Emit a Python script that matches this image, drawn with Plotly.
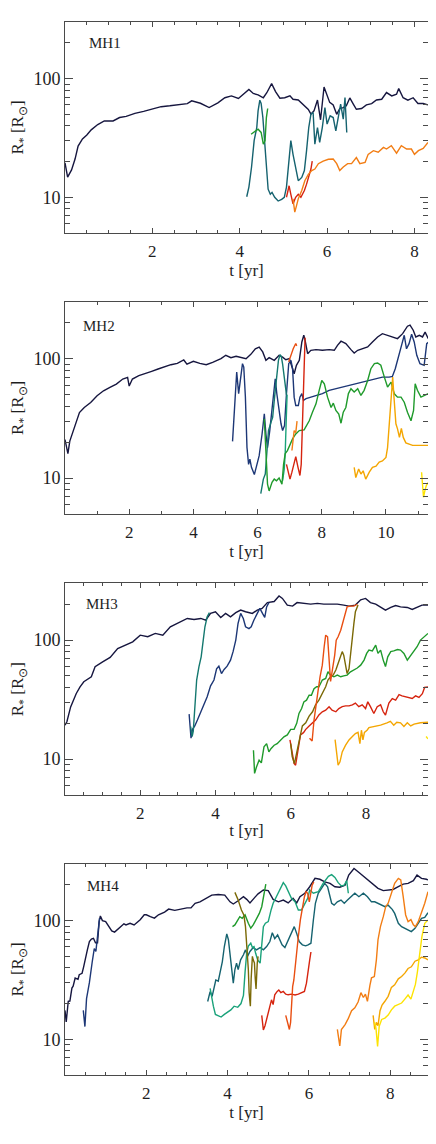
import math
import plotly.graph_objects as go

# ---------------- MH1 ----------------
mh1_black_t = [0.0, 0.06, 0.15, 0.23, 0.3, 0.4, 0.5, 0.6, 0.75, 0.9, 1.1, 1.25, 1.4, 1.6, 1.8, 2.0, 2.2, 2.4, 2.6, 2.8, 2.9, 3.1, 3.3, 3.5, 3.66, 3.81, 3.97, 4.08, 4.21, 4.31, 4.42, 4.54, 4.62, 4.73, 4.82, 4.92, 5.03, 5.15, 5.22, 5.34, 5.45, 5.57, 5.63, 5.7, 5.78, 5.85, 5.93, 5.99, 6.06, 6.14, 6.22, 6.29, 6.37, 6.44, 6.52, 6.6, 6.67, 6.79, 6.9, 7.02, 7.13, 7.25, 7.36, 7.48, 7.59, 7.64, 7.74, 7.85, 7.97, 8.08, 8.2, 8.31]
mh1_black_r = [19.5, 14.8, 17, 21, 27, 31, 33.5, 37, 41, 44, 44, 47, 48, 51, 53, 55.6, 58, 59, 60.5, 61.6, 65, 62, 57, 62.5, 69, 71.5, 68, 74, 81, 75, 73, 69, 76, 90.8, 77.7, 68.4, 69, 71.5, 67, 66, 61, 55, 50.2, 53.5, 66, 45, 85, 74, 63, 60, 50, 56, 57, 59, 68.7, 61, 55.2, 56, 60, 61.6, 66, 67, 76.3, 71.5, 73.8, 82.4, 69, 65.8, 69, 61.7, 61.7, 60]
mh1_teal_t = [4.16, 4.21, 4.27, 4.33, 4.39, 4.42, 4.46, 4.49, 4.53, 4.58, 4.62, 4.65, 4.7, 4.74, 4.8, 4.88, 4.96, 5.02, 5.07, 5.11, 5.17, 5.22, 5.28, 5.34, 5.42, 5.48, 5.53, 5.58, 5.63, 5.68, 5.72, 5.78, 5.83, 5.89, 5.95, 6.0, 6.07, 6.14, 6.2, 6.25, 6.31, 6.37, 6.41, 6.45]
mh1_teal_r = [10.1, 12.2, 17.9, 30, 38.7, 53.5, 65.8, 61.7, 46.9, 28, 16.8, 11.7, 10.6, 11, 10, 9.3, 9.6, 10, 12.2, 17.9, 30, 23, 17.3, 13.8, 14.7, 16.8, 24.7, 38.7, 50.2, 51.8, 28, 38.7, 29, 38.7, 57, 41.4, 48.6, 47, 36.3, 47, 61, 45.5, 69.3, 35.2]
mh1_green_t = [4.26, 4.35, 4.42, 4.49, 4.54, 4.58, 4.61, 4.64]
mh1_green_r = [34, 36.3, 37.5, 35.2, 28, 30, 47, 56]
mh1_red_t = [5.07, 5.13, 5.17, 5.22, 5.28, 5.34, 5.4, 5.48, 5.53, 5.58, 5.63, 5.66]
mh1_red_r = [10, 12.5, 10.6, 8.8, 10, 10.6, 10, 11.4, 12.9, 14.7, 17.3, 20.2]
mh1_orange_t = [5.22, 5.26, 5.3, 5.34, 5.42, 5.49, 5.57, 5.65, 5.72, 5.8, 5.91, 6.03, 6.14, 6.22, 6.29, 6.37, 6.47, 6.56, 6.67, 6.75, 6.87, 6.94, 7.06, 7.17, 7.29, 7.36, 7.47, 7.59, 7.7, 7.82, 7.93, 8.0, 8.09, 8.2, 8.31]
mh1_orange_r = [9.7, 7.5, 8.5, 9.7, 11.4, 13.8, 15.6, 16.8, 17.3, 19.2, 20.2, 20.9, 21, 19.2, 16.8, 18, 19.2, 19.2, 21.6, 19.2, 19.7, 23, 24.7, 24, 26.3, 25.5, 27.2, 23.5, 27.2, 25.5, 25.5, 23, 24.7, 25.8, 29]

# ---------------- MH2 ----------------
mh2_black_t = [0.0, 0.09, 0.15, 0.25, 0.35, 0.45, 0.6, 0.8, 1.0, 1.2, 1.4, 1.6, 1.8, 1.95, 2.0, 2.1, 2.3, 2.5, 2.7, 2.9, 3.1, 3.3, 3.5, 3.7, 3.8, 4.0, 4.2, 4.4, 4.6, 4.86, 5.01, 5.17, 5.33, 5.48, 5.64, 5.79, 5.93, 6.05, 6.16, 6.26, 6.36, 6.52, 6.67, 6.78, 6.88, 6.99, 7.07, 7.14, 7.21, 7.3, 7.38, 7.44, 7.48, 7.56, 7.66, 7.82, 8.02, 8.23, 8.39, 8.49, 8.6, 8.75, 8.91, 9.01, 9.12, 9.27, 9.43, 9.58, 9.74, 9.89, 10.05, 10.2, 10.36, 10.52, 10.67, 10.75, 10.85, 10.93, 11.04, 11.14, 11.22, 11.32]
mh2_black_r = [21, 16, 20.4, 24.8, 30, 35.4, 39, 43, 48.9, 53.8, 57.4, 61.3, 67.5, 69.7, 59, 67.5, 72, 74.6, 78.3, 81.9, 85.7, 89, 91.4, 97.5, 90, 95, 91.4, 89, 93, 100, 106.7, 102, 104.6, 102, 100, 108.7, 121, 125, 113.8, 96.8, 102, 96.8, 106.7, 103, 98, 100, 85, 74.8, 88, 96.8, 138, 157, 142.6, 110, 117.5, 119, 117.5, 119, 117.5, 129.4, 140, 133.8, 119, 111.6, 117.5, 121, 125.3, 138, 152, 162, 157, 154, 147.3, 162, 187, 191, 173, 152, 157, 152, 167, 147]
mh2_navy_t = [5.22, 5.27, 5.35, 5.41, 5.46, 5.53, 5.57, 5.62, 5.67, 5.72, 5.76, 5.81, 5.9, 5.97, 6.05, 6.14, 6.21, 6.26, 6.31, 6.38, 6.47, 6.55, 6.6, 6.65, 6.73, 6.78, 6.84, 6.9, 6.97, 7.04, 7.09, 7.14, 7.19, 7.27, 7.32, 7.38, 7.43, 7.51, 7.66, 7.82, 8.02, 8.23, 8.44, 8.65, 8.86, 9.06, 9.27, 9.48, 9.69, 9.89, 10.1, 10.2, 10.29, 10.39, 10.5, 10.57, 10.64, 10.72, 10.8, 10.88, 10.96, 11.06, 11.19, 11.27, 11.32]
mh2_navy_r = [20.3, 36.8, 77.3, 51, 65.7, 90.8, 85, 48, 18, 13, 14.4, 12.3, 10.7, 13, 15.4, 23.4, 34.5, 23.4, 18, 25, 41.8, 67.9, 50.8, 39, 28.5, 25, 27.5, 50.8, 90.8, 96.8, 82.4, 47.6, 40.5, 40.5, 47.6, 51, 44.7, 46.2, 47.6, 49.2, 51, 54.3, 56, 57.8, 59.7, 61.6, 63.6, 65.8, 67.9, 70, 70, 71, 82.4, 106.7, 133.6, 157, 121, 133.6, 160, 138, 106.7, 90.8, 88, 133.6, 137]
mh2_teal_t = [6.1, 6.18, 6.24, 6.28, 6.34, 6.42, 6.47, 6.53, 6.59, 6.65, 6.7, 6.74, 6.78, 6.82, 6.86, 6.9]
mh2_teal_r = [7.4, 9.8, 10.8, 15, 25, 29.4, 32.3, 47.6, 65.7, 96.8, 108, 104, 90, 75, 58, 50]
mh2_sea_t = [6.78, 6.83, 6.86, 6.88, 6.9, 6.92]
mh2_sea_r = [9.5, 11.8, 16, 21, 35, 50]
mh2_green_t = [6.21, 6.26, 6.31, 6.36, 6.45, 6.52, 6.59, 6.67, 6.76, 6.81, 6.86, 6.93, 7.01, 7.09, 7.19, 7.3, 7.45, 7.61, 7.71, 7.82, 7.92, 8.0, 8.08, 8.18, 8.29, 8.36, 8.44, 8.53, 8.6, 8.67, 8.75, 8.83, 8.91, 9.01, 9.12, 9.22, 9.32, 9.43, 9.53, 9.64, 9.74, 9.84, 9.95, 10.05, 10.16, 10.26, 10.36, 10.47, 10.57, 10.67, 10.78, 10.86, 10.91, 10.98, 11.09, 11.19, 11.32]
mh2_green_r = [31.3, 14.9, 8.9, 7.8, 9.2, 9.8, 9.5, 10, 8.9, 13, 16, 17, 19.3, 21.3, 23.4, 25, 25.3, 30.2, 35.6, 41.8, 54.3, 65.7, 61.6, 47.6, 39, 42.4, 36.8, 34.4, 28.8, 35.6, 39, 51, 56, 52.5, 56, 49.2, 54.3, 65.7, 82.4, 90.8, 92, 88, 70, 57.8, 63.6, 50.8, 47.6, 47.6, 43.2, 35.6, 30.2, 36.8, 61.6, 54.3, 47.6, 49.2, 51]
mh2_red_t = [6.9, 6.97, 7.01, 7.07, 7.14, 7.19, 7.26, 7.32, 7.36, 7.4, 7.44, 7.48]
mh2_red_r = [13, 10.8, 9.8, 11.2, 13.9, 15.1, 12.3, 10.5, 13, 34.5, 90.8, 150]
mh2_redorange_t = [6.97, 7.04, 7.11, 7.19, 7.22]
mh2_redorange_r = [94, 106.7, 121, 134, 128]
mh2_orange_t = [7.07, 7.14, 7.19, 7.23]
mh2_orange_r = [17, 25, 24, 30]
mh2_amber_t = [9.01, 9.06, 9.15, 9.22, 9.29, 9.37, 9.48, 9.58, 9.69, 9.79, 9.89, 10.0, 10.05, 10.1, 10.16, 10.21, 10.25, 10.31, 10.36, 10.42, 10.48, 10.54, 10.62, 10.83, 11.32]
mh2_amber_r = [12.3, 10.1, 11.9, 10.8, 11.5, 9.8, 11.2, 12.3, 12.6, 13.6, 13.9, 14.9, 18, 28.5, 47.6, 70, 47.6, 28.5, 25.8, 21.9, 26, 21.9, 19.7, 18.8, 18.8]
mh2_yellow_t = [11.11, 11.14, 11.17, 11.22, 11.26, 11.32]
mh2_yellow_r = [11.2, 8.3, 6.9, 8, 8.7, 9.2]

# ---------------- MH3 ----------------
mh3_black_t = [0.0, 0.05, 0.15, 0.3, 0.4, 0.5, 0.7, 0.8, 1.0, 1.2, 1.4, 1.6, 1.8, 2.0, 2.2, 2.4, 2.6, 2.8, 3.07, 3.25, 3.43, 3.61, 3.74, 3.87, 4.0, 4.14, 4.27, 4.4, 4.54, 4.67, 4.8, 4.98, 5.11, 5.24, 5.38, 5.56, 5.69, 5.78, 5.91, 6.05, 6.17, 6.35, 6.53, 6.71, 6.88, 7.06, 7.24, 7.41, 7.55, 7.72, 7.86, 7.99, 8.12, 8.26, 8.39, 8.52, 8.66, 8.79, 8.92, 9.1, 9.23, 9.36, 9.49, 9.65]
mh3_black_r = [19.3, 20.6, 27.5, 35.6, 40.5, 44.7, 49.2, 59.7, 65.7, 71.5, 85, 90.8, 96.8, 110, 106.7, 113.8, 110, 129.4, 142.6, 152, 149, 152, 147.3, 167.5, 173, 155, 167.5, 157, 170, 178.7, 173, 167.5, 178.7, 184.6, 206.6, 210.9, 234.5, 224, 196.8, 193.1, 206.6, 203.4, 200.6, 203.4, 200.6, 200.6, 200.6, 196.8, 193, 196.8, 218, 224, 206.6, 200.6, 190, 178.7, 188, 195, 190, 188, 181, 190, 196.8, 196.8]
mh3_navy_t = [3.3, 3.32, 3.35, 3.39, 3.45, 3.52, 3.59, 3.68, 3.78, 3.87, 3.96, 4.03, 4.09, 4.16, 4.23, 4.31, 4.4, 4.47, 4.54, 4.6, 4.67, 4.74, 4.8, 4.89, 4.95, 5.02, 5.11, 5.18, 5.25, 5.31, 5.36, 5.42]
mh3_navy_r = [23.9, 18.8, 15, 17.8, 19, 21.3, 24.2, 27.6, 33.5, 41.3, 46.2, 57.5, 60.4, 52.4, 56.7, 60.4, 67.9, 80.4, 100, 138, 167.5, 152, 129.4, 125, 129.4, 147, 167.5, 184.6, 167.5, 155, 190, 206.6]
mh3_teal_t = [3.34, 3.38, 3.41, 3.45, 3.5, 3.56, 3.62, 3.68, 3.72, 3.78, 3.84]
mh3_teal_r = [18.8, 15.5, 17.2, 27.6, 46.2, 59.7, 72.4, 103, 129.4, 157, 170]
mh3_green_t = [5.01, 5.04, 5.09, 5.16, 5.22, 5.29, 5.36, 5.42, 5.48, 5.56, 5.64, 5.73, 5.82, 5.91, 6.0, 6.09, 6.16, 6.22, 6.29, 6.35, 6.42, 6.49, 6.55, 6.62, 6.69, 6.75, 6.84, 6.93, 6.99, 7.06, 7.15, 7.24, 7.33, 7.41, 7.5, 7.59, 7.68, 7.77, 7.86, 7.95, 8.02, 8.08, 8.17, 8.26, 8.32, 8.39, 8.46, 8.52, 8.58, 8.66, 8.74, 8.84, 8.92, 9.01, 9.1, 9.19, 9.28, 9.36, 9.45, 9.54, 9.65]
mh3_green_r = [11.9, 7.6, 8.6, 9.8, 9.3, 12.7, 13.5, 11.5, 12.3, 13.1, 13.5, 14.5, 15.4, 16, 17.8, 17.8, 20, 24.2, 26.6, 30.3, 31.3, 34.4, 34.4, 39, 40.6, 40.6, 46.2, 47.7, 54.2, 50.8, 49.2, 50.8, 49.2, 50, 50.8, 54.2, 56.2, 58.3, 61.6, 67.9, 77.3, 82.4, 81.1, 90.8, 77.3, 82.4, 67.9, 60, 72.4, 80, 81.1, 83.4, 82.4, 77.3, 67.9, 74.8, 82.4, 88, 100, 106.6, 113.8]
mh3_red_t = [5.98, 6.04, 6.09, 6.13, 6.17, 6.22, 6.26, 6.34, 6.4, 6.49, 6.58, 6.66, 6.75, 6.84, 6.93, 7.02, 7.1, 7.2, 7.28, 7.37, 7.46, 7.55, 7.64, 7.72, 7.81, 7.9, 7.99, 8.05, 8.12, 8.21, 8.3, 8.39, 8.46, 8.52, 8.61, 8.7, 8.79, 8.88, 8.96, 9.05, 9.14, 9.23, 9.32, 9.41, 9.5, 9.56, 9.65]
mh3_red_r = [14.5, 11.2, 9.2, 8.9, 10.5, 13.5, 16, 16.7, 17.8, 19, 20.2, 21.3, 23.5, 25, 25.8, 27.6, 25.8, 25, 26.6, 27.6, 28, 28, 28.6, 29.6, 27.6, 28.6, 26.6, 30.3, 27.6, 24.2, 27.6, 28.6, 25, 23.5, 29.6, 32.3, 31.3, 34.8, 34, 33.5, 33, 32.3, 34, 33, 35.5, 40, 40.5]
mh3_olive_t = [6.0, 6.04, 6.1, 6.17, 6.24, 6.31, 6.4, 6.49, 6.58, 6.66, 6.75, 6.84, 6.93, 6.99, 7.06, 7.13, 7.2, 7.26, 7.33, 7.37, 7.41, 7.46, 7.5, 7.55, 7.59, 7.64, 7.68, 7.72, 7.79]
mh3_olive_r = [13.5, 10.5, 9.2, 11.9, 14.5, 19, 20.2, 23, 25, 28.6, 31.3, 35.5, 40.6, 46.2, 49.2, 50.8, 56, 63.6, 74.8, 80, 74.8, 63.6, 52.4, 57.5, 77.3, 106.6, 138, 173, 197]
mh3_orange_t = [6.5, 6.57, 6.62, 6.66, 6.72, 6.78, 6.84, 6.89, 6.93, 6.98, 7.02, 7.06, 7.1, 7.17, 7.21, 7.26, 7.33, 7.39, 7.44, 7.5, 7.57, 7.68, 7.77]
mh3_orange_r = [15, 14.2, 21.3, 27.6, 36, 49.2, 61.6, 88, 110, 106.7, 63.6, 45, 54.2, 74.8, 100, 106.7, 121, 142.6, 167.5, 190, 193, 193, 200]
mh3_amber_t = [7.18, 7.22, 7.26, 7.31, 7.37, 7.46, 7.55, 7.64, 7.72, 7.79, 7.84, 7.88, 7.92, 7.96, 8.03, 8.08, 8.21, 8.39, 8.56, 8.65, 8.74, 8.82, 8.92, 9.01, 9.1, 9.19, 9.28, 9.45, 9.65]
mh3_amber_r = [14.6, 11.2, 8.9, 9.5, 11.5, 13.1, 14.5, 15.5, 16.4, 16.8, 13.5, 17.5, 14.5, 16.8, 17.5, 18.4, 18.8, 19.3, 20.2, 20.8, 19.3, 20.4, 20.2, 18.8, 20.2, 19, 19.7, 20.2, 20.4]
mh3_yellow_t = [9.6, 9.65]
mh3_yellow_r = [15.5, 14.8]

# ---------------- MH4 ----------------
mh4_black_t = [0.0, 0.03, 0.08, 0.12, 0.17, 0.2, 0.25, 0.32, 0.35, 0.42, 0.46, 0.5, 0.55, 0.6, 0.65, 0.7, 0.75, 0.8, 0.84, 0.87, 0.92, 1.0, 1.1, 1.15, 1.22, 1.3, 1.45, 1.5, 1.6, 1.7, 1.85, 1.95, 2.0, 2.1, 2.2, 2.3, 2.45, 2.55, 2.7, 2.85, 3.0, 3.1, 3.2, 3.32, 3.44, 3.61, 3.77, 3.93, 4.06, 4.14, 4.26, 4.39, 4.47, 4.55, 4.67, 4.75, 4.88, 5.0, 5.12, 5.25, 5.37, 5.49, 5.61, 5.7, 5.78, 5.9, 6.02, 6.15, 6.27, 6.39, 6.52, 6.64, 6.76, 6.89, 6.98, 7.11, 7.21, 7.34, 7.46, 7.58, 7.7, 7.83, 7.95, 8.07, 8.2, 8.32, 8.44, 8.57, 8.66, 8.77, 8.89, 8.93]
mh4_black_r = [17.5, 14, 20.9, 21, 27, 28, 32.8, 32, 35, 36, 41, 48.2, 56.7, 66.6, 70, 71, 65, 65, 98, 109.4, 100, 98, 88, 82, 80, 85, 94, 92, 95, 92, 101.7, 112, 112, 108, 105, 112, 118, 125, 122, 125, 128, 128, 140, 144, 151, 164, 166, 164, 144, 138, 147, 159, 151, 141, 157, 168, 181, 179, 151, 144, 149, 141, 154, 141, 159, 170, 193, 227, 223, 212, 206, 193, 191, 199, 242, 275, 258, 236, 217, 203, 187, 179, 181, 183, 193, 203, 206, 217, 242, 227, 223, 220]
mh4_navy_t = [0.45, 0.49, 0.53, 0.6, 0.67, 0.72, 0.76, 0.8, 0.85]
mh4_navy_r = [17.5, 12.8, 22, 30, 45, 58, 55, 75, 105]
mh4_teal_t = [3.51, 3.57, 3.62, 3.67, 3.71, 3.77, 3.81, 3.87, 3.92, 3.98, 4.02, 4.06, 4.1, 4.14, 4.18, 4.22, 4.26, 4.32, 4.39, 4.44, 4.49, 4.55, 4.63, 4.71, 4.8, 4.88, 4.96, 5.04, 5.1, 5.16, 5.23, 5.29, 5.34, 5.41, 5.49, 5.57, 5.64, 5.7, 5.76, 5.84, 5.92, 5.98, 6.05, 6.11, 6.16, 6.23, 6.31, 6.39, 6.46, 6.52, 6.56, 6.62, 6.7, 6.79, 6.87, 6.95, 7.05, 7.13, 7.23, 7.34, 7.44, 7.54, 7.62, 7.75, 7.87, 7.95, 8.05, 8.11, 8.2, 8.28, 8.36, 8.44, 8.52, 8.61, 8.69, 8.77, 8.85, 8.93]
mh4_teal_r = [20.8, 25.2, 23, 28.3, 31.6, 30.9, 36, 45, 60.5, 77.3, 69, 50, 36, 29.7, 38.7, 43.8, 38.7, 46.7, 51.5, 56.7, 50, 55, 59.3, 56.7, 59.3, 56.7, 60.5, 66.6, 79, 70.6, 75.7, 69, 62.5, 59.3, 69, 80.8, 89, 78, 66.6, 62.5, 61.3, 62.5, 64.5, 101.3, 140, 170, 187, 206, 193, 159, 140, 135, 144, 149, 140, 149, 159, 170, 159, 170, 159, 144, 144, 138, 130.9, 135, 124.5, 115, 95, 89, 86.2, 83.5, 80.8, 86.2, 95, 104.6, 106.6, 116.7]
mh4_sea_t = [3.57, 3.61, 3.65, 3.7, 3.77, 3.84, 3.92, 4.0, 4.08, 4.16, 4.25, 4.33, 4.39, 4.43, 4.47, 4.51, 4.57, 4.61, 4.65, 4.69, 4.74, 4.8, 4.84, 4.88, 4.93, 5.0, 5.07, 5.12, 5.2, 5.29, 5.37, 5.43, 5.49, 5.57, 5.66, 5.74, 5.82, 5.9, 5.97, 6.02, 6.11, 6.23, 6.35, 6.48, 6.56, 6.64, 6.72, 6.8, 6.87, 6.93, 6.97]
mh4_sea_r = [26.9, 21.6, 19, 16.2, 15.9, 15.4, 16.2, 16.9, 17.7, 19, 18.6, 20, 23.4, 37, 53.2, 61, 64.5, 59.3, 60.5, 53, 46.7, 43.8, 64.5, 89, 95, 98, 123, 140, 159, 187, 209, 196, 175, 154, 144, 123, 123, 140, 154, 181, 170, 175, 206, 236, 244, 231, 209, 196, 199, 217, 170]
mh4_green_t = [4.12, 4.18, 4.25, 4.3, 4.36, 4.43, 4.51, 4.57, 4.63, 4.71, 4.78, 4.84, 4.89, 4.94]
mh4_green_r = [89, 92, 101, 108, 104.6, 111.6, 95, 86.2, 92, 104.6, 115, 131, 170, 203]
mh4_olive_t = [4.18, 4.26, 4.34, 4.4, 4.44, 4.48, 4.51, 4.53, 4.56, 4.58, 4.61, 4.63, 4.66, 4.68, 4.7, 4.73, 4.75]
mh4_olive_r = [173, 149, 123, 111.6, 89, 56.7, 38.7, 24.6, 19, 32.6, 50, 46.7, 44, 32.6, 26.5, 44, 50]
mh4_red_t = [4.84, 4.88, 4.92, 4.98, 5.04, 5.08, 5.12, 5.16, 5.22, 5.26, 5.31, 5.37, 5.43, 5.49, 5.57, 5.66, 5.74, 5.82, 5.89, 5.94, 5.98, 6.02, 6.05]
mh4_red_r = [15.9, 12, 13, 15.9, 19, 21.5, 19.6, 23.7, 25.3, 26, 24.7, 25.3, 24, 23.7, 24, 23.6, 24, 24.7, 25.3, 29.7, 38.7, 46.7, 54.4]
mh4_redorange_t = [5.43, 5.48, 5.52, 5.55, 5.57, 5.6, 5.63, 5.66, 5.7, 5.74, 5.79, 5.84, 5.89, 5.93, 5.97, 6.01, 6.05, 6.08, 6.12]
mh4_redorange_r = [15.9, 13.9, 12.1, 13.9, 20.2, 27.8, 31.6, 41.4, 56.7, 73.4, 101.3, 131, 159, 175, 170, 144, 170, 199, 212]
mh4_orange_t = [6.7, 6.74, 6.76, 6.8, 6.89, 6.97, 7.05, 7.13, 7.21, 7.28, 7.34, 7.39, 7.44, 7.5, 7.54, 7.61, 7.66, 7.7, 7.76, 7.83, 7.89, 7.95, 8.03, 8.11, 8.2, 8.26, 8.32, 8.38, 8.44, 8.51, 8.57, 8.62, 8.69, 8.77, 8.85, 8.93]
mh4_orange_r = [12.1, 10, 8.8, 12.1, 13.3, 15, 17.4, 18.4, 20.6, 24.7, 22.5, 24, 20.9, 28.3, 33, 33.8, 46.7, 69, 89, 108, 131, 140, 170, 206, 227, 220, 159, 111.6, 98, 102, 92, 89, 98, 115, 140, 175]
mh4_amber_t = [7.58, 7.62, 7.66, 7.7, 7.75, 7.8, 7.87, 7.95, 8.03, 8.11, 8.2, 8.28, 8.36, 8.44, 8.52, 8.61, 8.69, 8.77, 8.85, 8.93]
mh4_amber_r = [15.9, 12.1, 13.9, 13, 17.4, 19.4, 20.9, 23, 27.4, 28.8, 32.3, 33.8, 36.1, 39.5, 40.8, 45.5, 46.7, 49.2, 48.4, 46.7]
mh4_yellow_t = [7.61, 7.65, 7.69, 7.73, 7.79, 7.87, 7.95, 8.03, 8.11, 8.2, 8.28, 8.36, 8.44, 8.51, 8.57, 8.62, 8.67, 8.73, 8.78, 8.85, 8.93]
mh4_yellow_r = [13.9, 12.4, 8.7, 12.9, 14.7, 15.1, 16, 17.7, 19, 19.6, 20.2, 21.8, 23.6, 21.8, 25.9, 29, 37, 53.2, 73.4, 95, 101]

# axis settings per panel
panel_names = ["MH1", "MH2", "MH3", "MH4"]
panel_xmax = [8.31, 11.31, 9.65, 8.93]
panel_xmajor = [[2, 4, 6, 8], [2, 4, 6, 8, 10], [2, 4, 6, 8], [2, 4, 6, 8]]
panel_xminor = [0.5, 1.0, 0.5, 0.5]
y_major = [10, 100]
y_minor = [5, 6, 7, 8, 9, 20, 30, 40, 50, 60, 70, 80, 90, 200, 300]
y_range = [5, 300]

C = {
    "black": "#16163f",
    "navy": "#1d3776",
    "teal": "#15626f",
    "teal2": "#14786f",
    "sea": "#1aa27a",
    "green": "#1f9a2b",
    "olive": "#7b6906",
    "red": "#d6240f",
    "redorange": "#e94e11",
    "orange": "#f27d14",
    "amber": "#f4a602",
    "yellow": "#fde302",
}

series = [
    [(mh1_black_t, mh1_black_r, "black"), (mh1_teal_t, mh1_teal_r, "teal"), (mh1_green_t, mh1_green_r, "green"),
     (mh1_red_t, mh1_red_r, "red"), (mh1_orange_t, mh1_orange_r, "orange")],
    [(mh2_black_t, mh2_black_r, "black"), (mh2_navy_t, mh2_navy_r, "navy"), (mh2_teal_t, mh2_teal_r, "teal2"),
     (mh2_sea_t, mh2_sea_r, "sea"), (mh2_green_t, mh2_green_r, "green"), (mh2_redorange_t, mh2_redorange_r, "redorange"),
     (mh2_orange_t, mh2_orange_r, "orange"), (mh2_red_t, mh2_red_r, "red"), (mh2_amber_t, mh2_amber_r, "amber"),
     (mh2_yellow_t, mh2_yellow_r, "yellow")],
    [(mh3_black_t, mh3_black_r, "black"), (mh3_navy_t, mh3_navy_r, "navy"), (mh3_teal_t, mh3_teal_r, "teal2"),
     (mh3_green_t, mh3_green_r, "green"), (mh3_red_t, mh3_red_r, "red"), (mh3_olive_t, mh3_olive_r, "olive"),
     (mh3_orange_t, mh3_orange_r, "redorange"), (mh3_amber_t, mh3_amber_r, "amber"), (mh3_yellow_t, mh3_yellow_r, "yellow")],
    [(mh4_black_t, mh4_black_r, "black"), (mh4_navy_t, mh4_navy_r, "navy"), (mh4_teal_t, mh4_teal_r, "teal"),
     (mh4_sea_t, mh4_sea_r, "sea"), (mh4_green_t, mh4_green_r, "green"), (mh4_olive_t, mh4_olive_r, "olive"),
     (mh4_red_t, mh4_red_r, "red"), (mh4_redorange_t, mh4_redorange_r, "redorange"), (mh4_orange_t, mh4_orange_r, "orange"),
     (mh4_amber_t, mh4_amber_r, "amber"), (mh4_yellow_t, mh4_yellow_r, "yellow")],
]

# the page body has an 8px default margin, so the figure is drawn 8px in from the window corner
OFF = 8
W, H = 436 - OFF, 1144 - OFF
panel_px = [(22, 233), (301.7, 514), (583.3, 795), (864, 1075)]  # window pixel rows of each frame
label_pos = [(0.06, 0.9), (0.045, 0.885), (0.052, 0.9), (0.055, 0.895)]

FONT = "Liberation Serif, serif"
AX = "#4a4a4a"
TXT = "#1e1e1e"

fig = go.Figure()
layout = dict(
    width=W, height=H,
    margin=dict(l=65 - OFF, r=8, t=0, b=0),
    paper_bgcolor="white", plot_bgcolor="white",
    showlegend=False,
    font=dict(family=FONT, color=TXT, size=16),
    annotations=[],
)

for i in range(4):
    k = "" if i == 0 else str(i + 1)
    xa, ya = "x" + k, "y" + k
    for (t, r, c) in series[i]:
        fig.add_trace(go.Scatter(x=t, y=r, mode="lines", xaxis=xa, yaxis=ya,
                                 line=dict(color=C[c], width=1.4), hoverinfo="skip"))
    top, bot = panel_px[i]
    top -= OFF
    bot -= OFF
    layout["xaxis" + k] = dict(
        domain=[0, 1], anchor=ya, range=[0, panel_xmax[i]],
        tickmode="array", tickvals=panel_xmajor[i], ticks="inside", ticklen=5,
        tickcolor=AX, tickwidth=1, showline=True, linecolor=AX, linewidth=1,
        mirror="ticks", showgrid=False, zeroline=False, automargin=False,
        tickfont=dict(family=FONT, size=17, color=TXT), ticklabelstandoff=3,
        minor=dict(tick0=0, dtick=panel_xminor[i], ticks="inside", ticklen=3, tickcolor=AX, showgrid=False),
        title=dict(text="t [yr]", font=dict(family=FONT, size=17, color=TXT), standoff=1),
    )
    layout["yaxis" + k] = dict(
        domain=[1 - bot / H, 1 - top / H], anchor=xa, type="log",
        range=[math.log10(y_range[0]), math.log10(y_range[1])],
        tickmode="array", tickvals=y_major, ticktext=[str(v) for v in y_major],
        ticks="inside", ticklen=8, tickcolor=AX, tickwidth=1,
        showline=True, linecolor=AX, linewidth=1, mirror="ticks",
        showgrid=False, zeroline=False, automargin=False,
        tickfont=dict(family=FONT, size=18, color=TXT),
        minor=dict(tickmode="array", tickvals=y_minor, ticks="inside", ticklen=5, tickcolor=AX, showgrid=False),
        title=dict(text="R<sub>*</sub> [R<sub>⊙</sub>]", font=dict(family=FONT, size=17, color=TXT), standoff=8),
    )
    lx, ly = label_pos[i]
    layout["annotations"].append(dict(
        text=panel_names[i], xref=xa + " domain", yref=ya + " domain", x=lx, y=ly,
        xanchor="left", yanchor="middle", showarrow=False,
        font=dict(family=FONT, size=15, color=TXT)))

fig.update_layout(**layout)
fig.write_html("out.html")
